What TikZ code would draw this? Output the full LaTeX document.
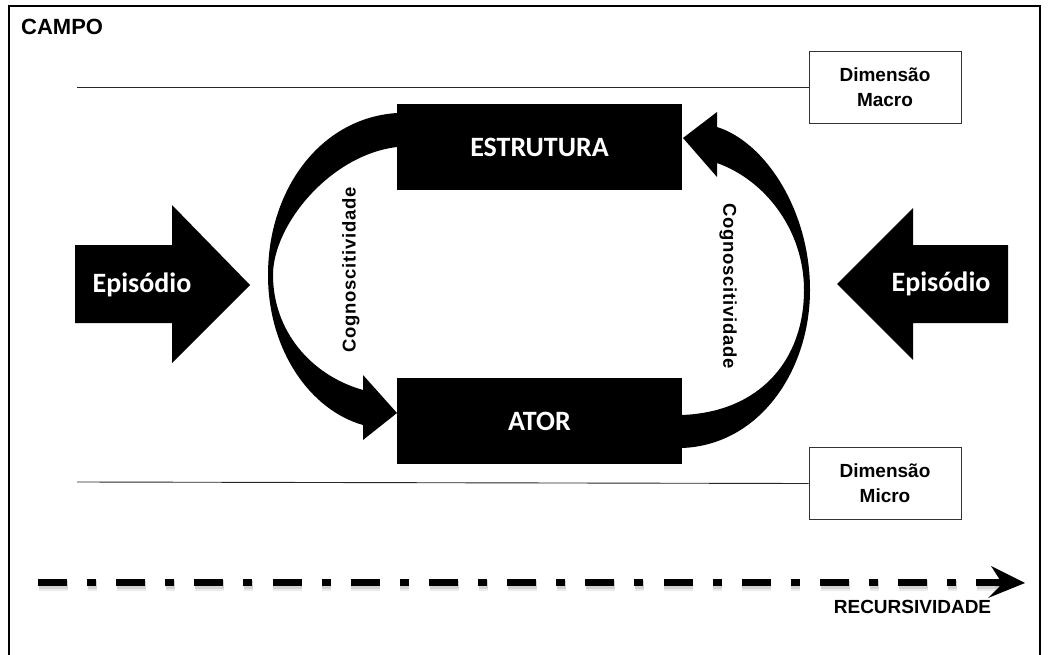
\documentclass[tikz,border=0pt]{standalone}
\usepackage{fontspec}
\setmainfont{Liberation Sans}
\newfontfamily\calib{Carlito}
\begin{document}
\begin{tikzpicture}[x=1pt,y=-1pt,
  bigbox/.style={fill=black,draw=none,minimum width=285pt,minimum height=86pt,inner sep=0pt,
    text=white,font=\calib\bfseries\fontsize{28}{30}\selectfont},
  dimbox/.style={draw=black!80,line width=0.9pt,fill=white,minimum width=152pt,minimum height=72pt,
    inner sep=0pt,align=center,font=\bfseries\fontsize{19}{25}\selectfont},
  eptext/.style={text=white,inner sep=0pt,font=\calib\bfseries\fontsize{28}{30}\selectfont},
  cogtext/.style={inner sep=0pt,font=\bfseries\fontsize{18.5}{20}\selectfont\addfontfeature{LetterSpace=4}},
  guide/.style={draw=black!85,line width=0.9pt},
  recur/.style={line width=7pt,dash pattern=on 29pt off 20pt on 9pt off 20.2pt}]
\useasboundingbox (0,0) rectangle (1049,655);
\clip (0,0) rectangle (1049,655);

% outer frame (bottom edge lies below the visible area)
\draw[line width=1.3pt] (9,700) -- (9,6) -- (1040,6) -- (1040,700);
\node[anchor=base west,inner sep=0pt,font=\bfseries\fontsize{22}{24}\selectfont] (campo) at (21,35) {CAMPO};

% level boxes and guide lines
\node[dimbox] (macro) at (885,87) {Dimensão\\Macro};
\node[dimbox] (micro) at (885,483.5) {Dimensão\\Micro};
\coordinate (macroL) at (77,87);
\coordinate (microL) at (77,482);
\draw[guide] (macroL) -- (macro.west);
\draw[guide] (microL) -- (micro.west);

% curved arrow: structure -> actor
\fill[black] (397,113) .. controls (320,118) and (268,190) .. (268,275)
  .. controls (268,350) and (310,410) .. (363,425)
  -- (363,440) -- (397,413) -- (363,375) -- (363,390)
  .. controls (310,375) and (273,330) .. (273,275)
  .. controls (273,225) and (330,155) .. (397,147) -- cycle;
% curved arrow: actor -> structure
\fill[black] (682,448) .. controls (760,445) and (810,370) .. (810,290)
  .. controls (810,210) and (765,142) .. (717,127)
  -- (717,112) -- (683,138) -- (717,177) -- (717,163)
  .. controls (765,180) and (804,230) .. (804,290)
  .. controls (804,360) and (760,412) .. (682,415) -- cycle;

\node[bigbox] (estrutura) at (539.5,147) {ESTRUTURA};
\node[bigbox] (ator) at (539.5,421) {ATOR};

\node[cogtext,rotate=90] (cogL) at (351,270) {Cognoscitividade};
\node[cogtext,rotate=-90] (cogR) at (728,286) {Cognoscitividade};

% episode arrows
\fill[black] (75,245) -- (172,245) -- (172,205) -- (250,285) -- (172,363) -- (172,323) -- (75,323) -- cycle;
\node[eptext] (epL) at (142,285) {Episódio};
\fill[black] (1008,245) -- (913,245) -- (913,208) -- (837,284) -- (913,360) -- (913,323) -- (1008,323) -- cycle;
\node[eptext] (epR) at (941,284) {Episódio};

% recursion axis with a soft shadow
\coordinate (rA) at (38,582.5);
\coordinate (rB) at (1008,582.5);
\coordinate (rT) at (1025,583);
\draw[recur,black!8,line width=11pt] ([shift={(0.5,3)}]rA) -- ([shift={(0.5,3)}]rB);
\draw[recur,black!18,line width=8.5pt] ([shift={(0.5,2.5)}]rA) -- ([shift={(0.5,2.5)}]rB);
\draw[recur] (rA) -- (rB);
\fill[black] (rT) -- (991,566) -- (1000,580) -- (995,580) -- (995,586) -- (1000,586) -- (988,598) -- cycle;
\node[anchor=base,inner sep=0pt,font=\bfseries\fontsize{19}{21}\selectfont] (recurs) at (912.5,613) {RECURSIVIDADE};
\end{tikzpicture}
\end{document}
